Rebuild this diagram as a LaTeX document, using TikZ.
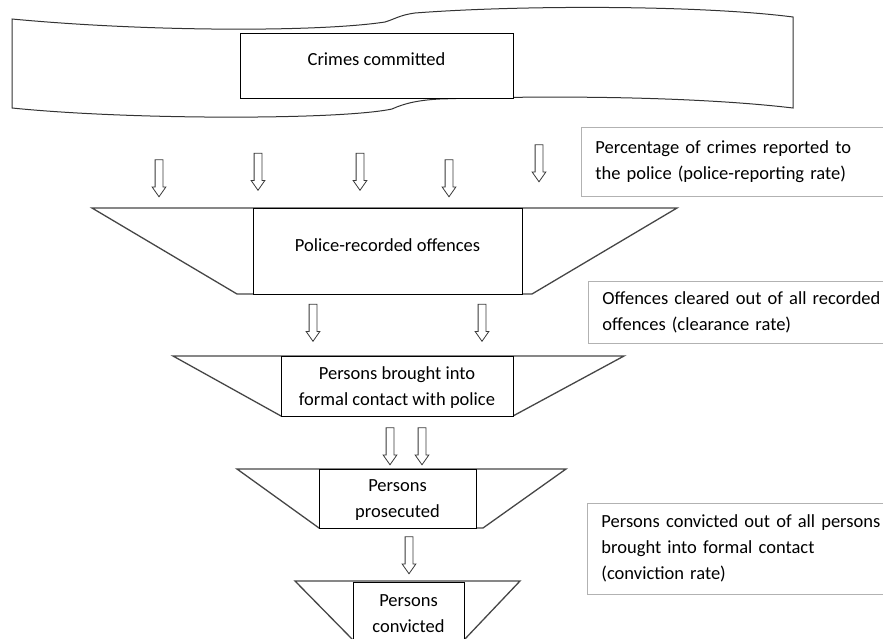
\documentclass[tikz,border=0pt]{standalone}
\usepackage{fontspec}
\setmainfont{Carlito}
\usetikzlibrary{shapes.arrows}
\tikzset{
    stagebox/.style = {rectangle, draw=black, line width=0.9pt, fill=white, inner sep=0pt, align=center, font=\fontsize{18.5}{26}\selectfont},
    ratebox/.style = {rectangle, draw=gray!60, line width=0.9pt, inner xsep=14pt, inner ysep=0pt, text width=300pt, align=left, anchor=west, font=\fontsize{18.5}{26}\selectfont},
    funnel/.style = {draw=gray!55!black, line width=1.3pt, line join=miter},
    banner/.style = {draw=black!80, line width=1pt, fill=white},
    downarrow/.style = {single arrow, draw=gray!45!black, fill=white, line width=0.8pt, rotate=-90, minimum height=37pt, inner xsep=0pt, inner ysep=3.5pt, single arrow head extend=3pt, single arrow tip angle=70, single arrow head indent=0pt}
}
\begin{document}
\begin{tikzpicture}[x=1pt,y=-1pt]
\useasboundingbox (0,0) rectangle (883,639);
% wavy banner
\draw[banner] (12,19) .. controls (150,32) and (320,32) .. (385,22) .. controls (395,19) and (400,15) .. (415,13)
    .. controls (520,5) and (700,5) .. (793,17) -- (793,108)
    .. controls (700,97) and (560,95) .. (440,99) .. controls (420,100) and (405,103) .. (392,109)
    .. controls (340,120) and (130,120) .. (12,108) -- cycle;
\node[stagebox, minimum width=273pt, minimum height=65pt, text depth=12pt] at (376.5,65.5) (crimes) {Crimes committed};
%
\node[downarrow] at (159,175.5) (a1) {};
\node[downarrow] at (258,169) (a2) {};
\node[downarrow] at (360,169) (a3) {};
\node[downarrow] at (449,175.5) (a4) {};
\node[downarrow] at (539,160.5) (a5) {};
%
\draw[funnel] (92,208) -- (677,208) -- (532,294) -- (237,294) -- cycle;
\node[stagebox, minimum width=269pt, minimum height=86pt, text depth=12pt] at (387.5,251) (recorded) {Police-recorded offences};
%
\node[downarrow] at (313,320) (b1) {};
\node[downarrow] at (482,320) (b2) {};
%
\draw[funnel] (173,356) -- (624,356) -- (513,416) -- (281,416) -- cycle;
\node[stagebox, minimum width=232pt, minimum height=60pt, text depth=0pt] at (397,386) (contact) {Persons brought into\\formal contact with police};
%
\node[downarrow] at (390,443.5) (c1) {};
\node[downarrow] at (422,443.5) (c2) {};
%
\draw[funnel] (237,469) -- (566,469) -- (483,528) -- (319,528) -- cycle;
\node[stagebox, minimum width=157pt, minimum height=59pt, text depth=0pt] at (397.5,498.5) (prosecuted) {Persons\\prosecuted};
%
\node[downarrow] at (409,552.5) (d1) {};
%
\draw[funnel] (295,581) -- (520,581) -- (464,640) -- (353,640) -- cycle;
\node[stagebox, minimum width=111pt, minimum height=64pt, text depth=0pt] at (408.5,614) (convicted) {Persons\\convicted};
%
\node[ratebox, minimum height=69pt] at (581,161.5) (ratereport) {Percentage of crimes reported to\\the police (police-reporting rate)};
\node[ratebox, minimum height=62pt] at (588,312) (rateclear) {Offences cleared out of all recorded\\offences (clearance rate)};
\node[ratebox, minimum height=91pt] at (587,548.5) (rateconvict) {Persons convicted out of all persons\\brought into formal contact\\(conviction rate)};
\end{tikzpicture}
\end{document}
